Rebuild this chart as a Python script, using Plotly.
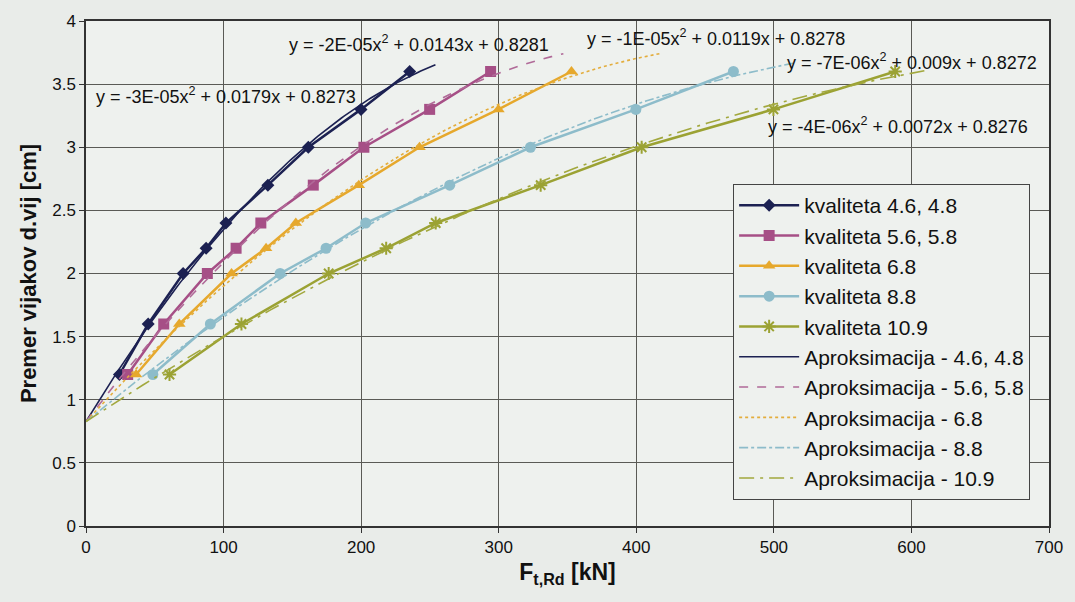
import numpy as np
import plotly.graph_objects as go

# Bolt diameters [cm]
diam = [1.2, 1.6, 2.0, 2.2, 2.4, 2.7, 3.0, 3.3, 3.6]
# Tension resistance F_t,Rd [kN] per bolt class
F_46 = [24.3, 45.2, 70.6, 87.3, 101.7, 132.2, 161.6, 199.9, 235.3]
F_56 = [30.3, 56.5, 88.2, 109.1, 127.1, 165.2, 202.0, 249.8, 294.1]
F_68 = [36.4, 67.8, 105.8, 130.9, 152.5, 198.3, 242.4, 299.8, 352.9]
F_88 = [48.6, 90.4, 141.1, 174.5, 203.3, 264.4, 323.1, 399.7, 470.6]
F_109 = [60.7, 113.0, 176.4, 218.2, 254.2, 330.5, 403.9, 499.7, 588.2]

names = ["kvaliteta 4.6, 4.8", "kvaliteta 5.6, 5.8", "kvaliteta 6.8",
         "kvaliteta 8.8", "kvaliteta 10.9"]
trend_names = ["Aproksimacija - 4.6, 4.8", "Aproksimacija - 5.6, 5.8",
               "Aproksimacija - 6.8", "Aproksimacija - 8.8", "Aproksimacija - 10.9"]
trend_end = [254, 347, 417, 516, 611]  # forward forecast end of trendlines [kN]

equations = ["y = -3E-05x<sup>2</sup> + 0.0179x + 0.8273",
             "y = -2E-05x<sup>2</sup> + 0.0143x + 0.8281",
             "y = -1E-05x<sup>2</sup> + 0.0119x + 0.8278",
             "y = -7E-06x<sup>2</sup> + 0.009x + 0.8272",
             "y = -4E-06x<sup>2</sup> + 0.0072x + 0.8276"]
eq_pos = [(6, 3.41), (146, 3.82), (363, 3.87), (508, 3.68), (494, 3.17)]

series = [F_46, F_56, F_68, F_88, F_109]
colors = ["#1c2152", "#a64f86", "#e6a82c", "#8dbcca", "#9ba233"]
trend_colors = ["#1c2152", "#b06a98", "#e3ad3c", "#8dbcca", "#a2a83e"]
symbols = ["diamond", "square", "triangle-up", "circle", "asterisk-open"]
msize = [10, 11, 11, 11, 11]
dashes = ["solid", "dash", "dot", "dashdot", "longdashdot"]

fig = go.Figure()
for F, nm, c, s, ms in zip(series, names, colors, symbols, msize):
    marker = dict(symbol=s, size=ms, color=c)
    if s == "asterisk-open":
        marker["line"] = dict(color=c, width=2)
    fig.add_trace(go.Scatter(x=F, y=diam, mode="lines+markers", name=nm,
                             line=dict(color=c, width=2.5), marker=marker))

for F, nm, c, d, xe in zip(series, trend_names, trend_colors, dashes, trend_end):
    coef = np.polyfit(F, diam, 2)
    xs = np.linspace(0, xe, 120)
    fig.add_trace(go.Scatter(x=xs, y=np.polyval(coef, xs), mode="lines", name=nm,
                             line=dict(color=c, width=1.6, dash=d)))

for eq, (ex, ey) in zip(equations, eq_pos):
    fig.add_annotation(x=ex, y=ey, text=eq, showarrow=False, xanchor="left",
                       yanchor="middle", font=dict(size=18, color="#111"))

axis_common = dict(showline=True, linecolor="#333", linewidth=1.5, mirror=True,
                   showgrid=True, gridcolor="#5a5a55", gridwidth=1.1,
                   ticks="outside", ticklen=5, tickcolor="#333", zeroline=False,
                   tickfont=dict(size=17, color="#111"))

fig.update_xaxes(range=[0, 700], dtick=100, **axis_common,
                 title=dict(text="<b>F<sub>t,Rd</sub> [kN]</b>", font=dict(size=23, color="#111"),
                            standoff=8))
fig.update_yaxes(range=[0, 4], dtick=0.5, **axis_common,
                 title=dict(text="<b>Premer vijakov d.vij [cm]</b>", font=dict(size=22, color="#111"),
                            standoff=10))

fig.update_layout(
    width=1075, height=602,
    margin=dict(l=86, r=24, t=19, b=76),
    paper_bgcolor="#e9ece9", plot_bgcolor="#eef1ee",
    font=dict(family="Liberation Sans, Arial, sans-serif", color="#111"),
    legend=dict(x=0.672, y=0.677, xanchor="left", yanchor="top",
                bgcolor="#eef1ee", bordercolor="#444", borderwidth=1,
                font=dict(size=21, color="#111"), itemwidth=60,
                tracegroupgap=0),
    showlegend=True,
)

fig.write_html("out.html")
